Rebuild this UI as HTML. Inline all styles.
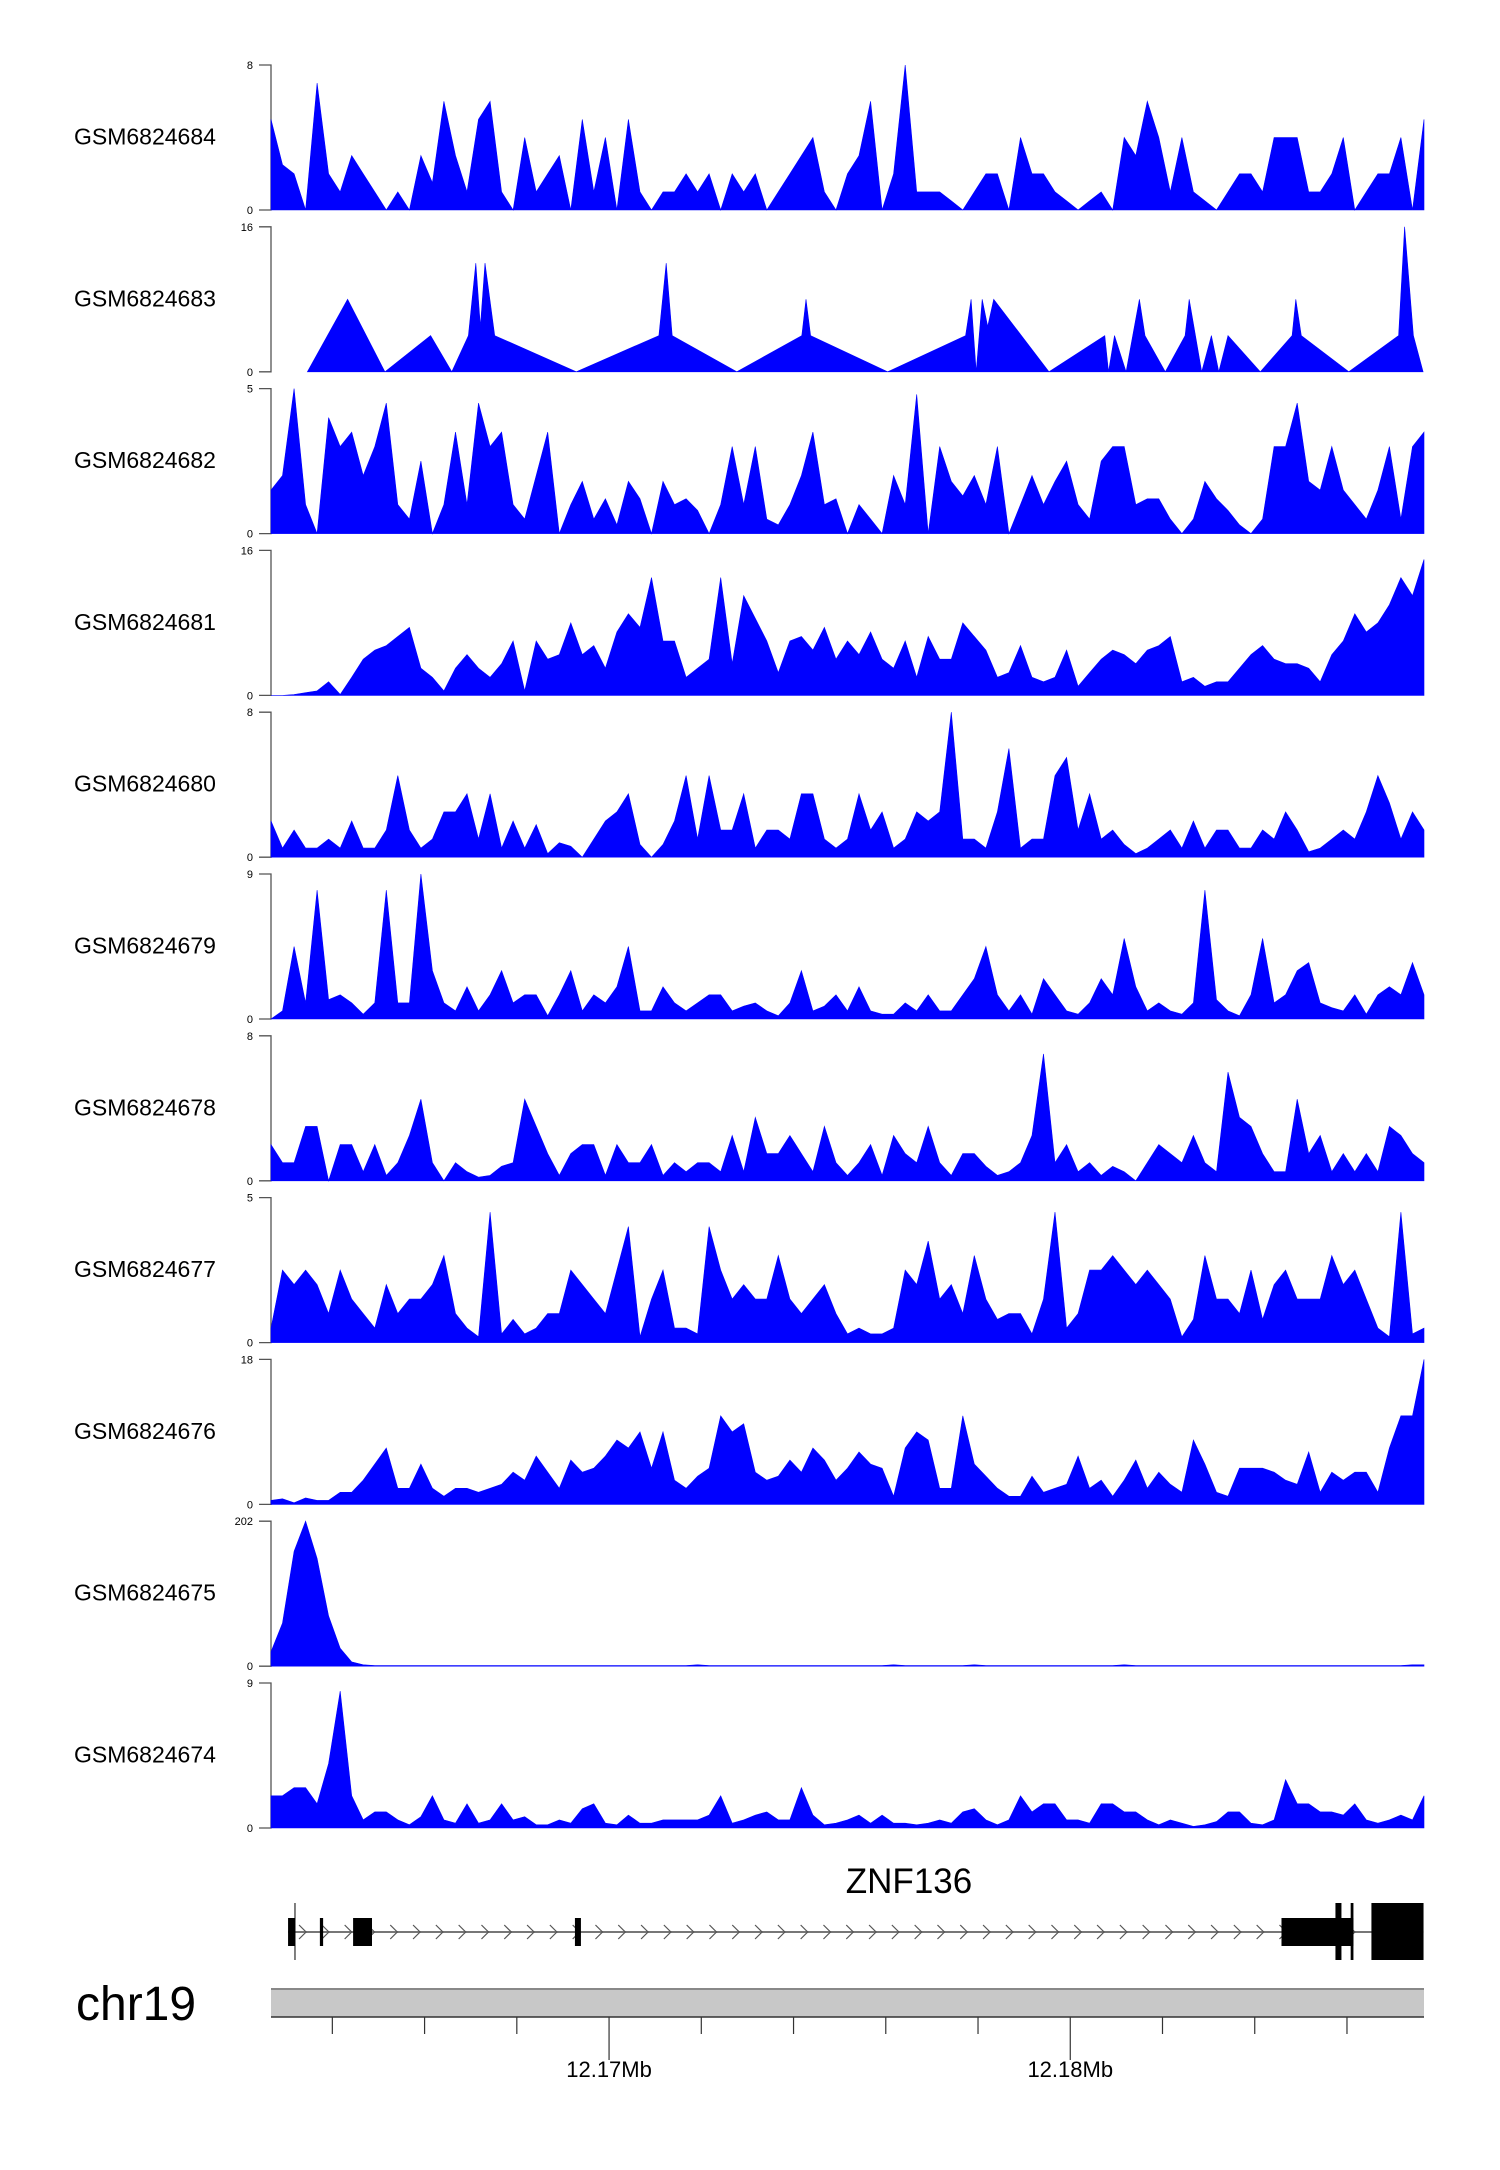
<!DOCTYPE html>
<html><head><meta charset="utf-8">
<style>
html,body{margin:0;padding:0;background:#fff;}
svg{display:block;font-family:"Liberation Sans",Arial,sans-serif;}
</style></head>
<body>
<svg id="chart" width="1500" height="2170" viewBox="0 0 1500 2170" xmlns="http://www.w3.org/2000/svg">
<g id="tracks"></g>
<g id="gene"></g>
<g id="ideo"></g>
</svg>
<script>
// ---- data ----
const sampleNames = ["GSM6824684","GSM6824683","GSM6824682","GSM6824681","GSM6824680","GSM6824679","GSM6824678","GSM6824677","GSM6824676","GSM6824675","GSM6824674"];
const yMaxLabels = [8,16,5,16,8,9,8,5,18,202,9];
const regionStartKb = 12162.67;
const regionEndKb = 12187.67;
const t1 = [5,2.5,2,0,7,2,1,3,2,1,0,1,0,3,1.5,6,3,1,5,6,1,0,4,1,2,3,0,5,1,4,0,5,1,0,1,1,2,1,2,0,2,1,2,0,1,2,3,4,1,0,2,3,6,0,2,8,1,1,1,0.5,0,1,2,2,0,4,2,2,1,0.5,0,0.5,1,0,4,3,6,4,1,4,1,0.5,0,1,2,2,1,4,4,4,1,1,2,4,0,1,2,2,4,0,5];
const t2Pos = [0.79,1.66,2.47,3.46,3.92,4.28,4.44,4.54,4.64,4.85,6.62,8.41,8.57,8.70,10.10,11.51,11.60,11.70,13.37,15.06,15.18,15.29,15.42,15.54,15.67,16.87,18.08,18.16,18.29,18.54,18.83,18.95,19.39,19.82,19.91,20.18,20.39,20.55,20.75,21.45,22.14,22.22,22.34,23.37,24.45,24.58,24.77,24.98];
const t2Val = [0,8,0,4,0,4,12,5,12,4,0,4,12,4,0,4,8,4,0,4,8,0,8,5,8,0,4,0,4,0,8,4,0,4,8,0,4,0,4,0,4,8,4,0,4,16,4,0];
const t3 = [1.5,2,5,1,0,4,3,3.5,2,3,4.5,1,0.5,2.5,0,1,3.5,1,4.5,3,3.5,1,0.5,2,3.5,0,1,1.8,0.5,1.2,0.3,1.8,1.2,0,1.8,1,1.2,0.8,0,1,3,1,3,0.5,0.3,1,2,3.5,1,1.2,0,1,0.5,0,2,1,4.8,0,3,1.8,1.3,2,1,3,0,1,2,1,1.8,2.5,1,0.5,2.5,3,3,1,1.2,1.2,0.5,0,0.5,1.8,1.2,0.8,0.3,0,0.5,3,3,4.5,1.8,1.5,3,1.5,1,0.5,1.5,3,0.5,3,3.5];
const t4 = [0,0,0.1,0.3,0.5,1.5,0.1,2,4,5,5.5,6.5,7.5,3,2,0.5,3,4.5,3,2,3.5,6,0.5,6,4,4.5,8,4.5,5.5,3,7,9,7.5,13,6,6,2,3,4,13,3.5,11,8.5,6,2.5,6,6.5,5,7.5,4,6,4.5,7,4,3,6,2,6.5,4,4,8,6.5,5,2,2.5,5.5,2,1.5,2,5,1,2.5,4,5,4.5,3.5,5,5.5,6.5,1.5,2,1,1.5,1.5,3,4.5,5.5,4,3.5,3.5,3,1.5,4.5,6,9,7,8,10,13,11,15];
const t5 = [2,0.5,1.5,0.5,0.5,1,0.5,2,0.5,0.5,1.5,4.5,1.5,0.5,1,2.5,2.5,3.5,1,3.5,0.5,2,0.5,1.8,0.2,0.8,0.6,0,1,2,2.5,3.5,0.7,0,0.7,2,4.5,1,4.5,1.5,1.5,3.5,0.5,1.5,1.5,1,3.5,3.5,1,0.5,1,3.5,1.5,2.5,0.5,1,2.5,2,2.5,8,1,1,0.5,2.5,6,0.5,1,1,4.5,5.5,1.5,3.5,1,1.5,0.7,0.2,0.5,1,1.5,0.5,2,0.5,1.5,1.5,0.5,0.5,1.5,1,2.5,1.5,0.3,0.5,1,1.5,1,2.5,4.5,3,1,2.5,1.5];
const t6 = [0,0.5,4.5,1,8,1.2,1.5,1,0.3,1,8,1,1,9,3,1,0.5,2,0.5,1.5,3,1,1.5,1.5,0.2,1.5,3,0.5,1.5,1,2,4.5,0.5,0.5,2,1,0.5,1,1.5,1.5,0.5,0.8,1,0.5,0.2,1,3,0.5,0.8,1.5,0.5,2,0.5,0.3,0.3,1,0.5,1.5,0.5,0.5,1.5,2.5,4.5,1.5,0.5,1.5,0.3,2.5,1.5,0.5,0.3,1,2.5,1.5,5,2,0.5,1,0.5,0.3,1,8,1.2,0.5,0.2,1.5,5,1,1.5,3,3.5,1,0.7,0.5,1.5,0.3,1.5,2,1.5,3.5,1.5];
const t7 = [2,1,1,3,3,0,2,2,0.5,2,0.3,1,2.5,4.5,1,0,1,0.5,0.2,0.3,0.8,1,4.5,3,1.5,0.3,1.5,2,2,0.3,2,1,1,2,0.3,1,0.5,1,1,0.5,2.5,0.5,3.5,1.5,1.5,2.5,1.5,0.5,3,1,0.3,1,2,0.3,2.5,1.5,1,3,1,0.3,1.5,1.5,0.8,0.3,0.5,1,2.5,7,1,2,0.5,1,0.3,0.8,0.5,0,1,2,1.5,1,2.5,1,0.5,6,3.5,3,1.5,0.5,0.5,4.5,1.5,2.5,0.5,1.5,0.5,1.5,0.5,3,2.5,1.5,1];
const t8 = [0.5,2.5,2,2.5,2,1,2.5,1.5,1,0.5,2,1,1.5,1.5,2,3,1,0.5,0.2,4.5,0.3,0.8,0.3,0.5,1,1,2.5,2,1.5,1,2.5,4,0.2,1.5,2.5,0.5,0.5,0.3,4,2.5,1.5,2,1.5,1.5,3,1.5,1,1.5,2,1,0.3,0.5,0.3,0.3,0.5,2.5,2,3.5,1.5,2,1,3,1.5,0.8,1,1,0.3,1.5,4.5,0.5,1,2.5,2.5,3,2.5,2,2.5,2,1.5,0.2,0.8,3,1.5,1.5,1,2.5,0.8,2,2.5,1.5,1.5,1.5,3,2,2.5,1.5,0.5,0.2,4.5,0.3,0.5];
const t9 = [0.5,0.7,0.2,0.8,0.5,0.5,1.5,1.5,3,5,7,2,2,5,2,1,2,2,1.5,2,2.5,4,3,6,4,2,5.5,4,4.5,6,8,7,9,4.5,9,3,2,3.5,4.5,11,9,10,4,3,3.5,5.5,4,7,5.5,3,4.5,6.5,5,4.5,1,7,9,8,2,2,11,5,3.5,2,1,1,3.5,1.5,2,2.5,6,2,3,1,3,5.5,2,4,2.5,1.5,8,5,1.5,1,4.5,4.5,4.5,4,3,2.5,6.5,1.5,4,3,4,4,1.5,7,11,11,18];
const t10 = [20,60,160,202,150,70,25,6,2,1,1,1,1,1,1,1,1,1,1,1,1,1,1,1,1,1,1,1,1,1,1,1,1,1,1,1,1,2,1,1,1,1,1,1,1,1,1,1,1,1,1,1,1,1,2,1,1,1,1,1,1,2,1,1,1,1,1,1,1,1,1,1,1,1,2,1,1,1,1,1,1,1,1,1,1,1,1,1,1,1,1,1,1,1,1,1,1,1,1,2,2];
const t11 = [2,2,2.5,2.5,1.5,4,8.5,2,0.5,1,1,0.5,0.2,0.7,2,0.5,0.3,1.5,0.3,0.5,1.5,0.5,0.7,0.2,0.2,0.5,0.3,1.2,1.5,0.3,0.2,0.8,0.3,0.3,0.5,0.5,0.5,0.5,0.8,2,0.3,0.5,0.8,1,0.5,0.5,2.5,0.8,0.2,0.3,0.5,0.8,0.3,0.8,0.3,0.3,0.2,0.3,0.5,0.3,1,1.2,0.5,0.2,0.5,2,1,1.5,1.5,0.5,0.5,0.3,1.5,1.5,1,1,0.5,0.2,0.5,0.3,0.1,0.2,0.4,1,1,0.3,0.2,0.5,3,1.5,1.5,1,1,0.8,1.5,0.5,0.3,0.5,0.8,0.5,2];
const binnedSeries = [t1,null,t3,t4,t5,t6,t7,t8,t9,t10,t11];
// gene exons (kb offsets from region start)
const exonStart = [0.37,1.06,1.78,6.59,21.91,23.08,23.41,23.86];
const exonEnd   = [0.52,1.13,2.19,6.72,23.47,23.21,23.47,24.99];
const exonKind  = ["s","s","s","s","s","t","t","t"];
const tssKb = 0.52;
const geneName = "ZNF136";
const axisTicksKb = [12164,12166,12168,12170,12172,12174,12176,12178,12180,12182,12184,12186];
const axisMajorLabels = {12170:"12.17Mb",12180:"12.18Mb"};

// ---- layout ----
const NS="http://www.w3.org/2000/svg";
const X0=271, X1=1424, TOP0=65, PITCH=161.8, H=145;
function xKb(kb){return X0+(kb-regionStartKb)/(regionEndKb-regionStartKb)*(X1-X0);}
function xOff(off){return xKb(regionStartKb+off);}
function mk(tag,attrs,parent){const e=document.createElementNS(NS,tag);for(const k in attrs)e.setAttribute(k,attrs[k]);parent.appendChild(e);return e;}

const tracks=document.getElementById('tracks');
sampleNames.forEach((nm,i)=>{
  const top=TOP0+i*PITCH, base=top+H, ymax=yMaxLabels[i];
  const yv=v=>base-(v/ymax)*H;
  const g=mk('g',{},tracks);
  
  
  const lab=mk('text',{x:74,y:(top+base)/2+7,'font-size':23,fill:'#000'},g);
  lab.textContent=nm;
  
  
  const ax=mk('path',{d:`M259,${top}H${X0}V${base}H259`,fill:'none',stroke:'#555','stroke-width':1.3},g);
  
  
  const tt=mk('text',{x:253,y:top+4,'font-size':11,'text-anchor':'end',fill:'#000'},g);
  tt.textContent=String(ymax);
  
  
  const tb=mk('text',{x:253,y:base+4,'font-size':11,'text-anchor':'end',fill:'#000'},g);
  tb.textContent="0";
  
  
  let pts=[];
  if(binnedSeries[i]){
    const s=binnedSeries[i], n=s.length-1, span=regionEndKb-regionStartKb;
    s.forEach((v,j)=>pts.push([xKb(regionStartKb+span*j/n),yv(v)]));
  } else {
    t2Pos.forEach((p,j)=>pts.push([xOff(p),yv(t2Val[j])]));
  }
  let d=`M${pts[0][0].toFixed(1)},${base}`;
  pts.forEach(p=>d+=`L${p[0].toFixed(1)},${p[1].toFixed(1)}`);
  d+=`L${pts[pts.length-1][0].toFixed(1)},${base}Z`;
  const ar=mk('path',{d:d,fill:'#0000ff',stroke:'#0000ff','stroke-width':0.6},g);
  
  
});

// gene track
const gg=document.getElementById('gene');


const GY=1932;
const gl=mk('text',{x:909,y:1893,'font-size':35,'text-anchor':'middle',fill:'#000'},gg);
gl.textContent=geneName;


const intr=mk('line',{x1:xOff(exonStart[0]),x2:xOff(exonEnd[exonEnd.length-1]),y1:GY,y2:GY,stroke:'#777','stroke-width':2},gg);


for(let x=xOff(exonStart[0])+14;x<xOff(exonStart[7])-5;x+=22.8){
  const c=mk('path',{d:`M${x-3},${GY-7}L${x+4},${GY}L${x-3},${GY+7}`,fill:'none',stroke:'#555','stroke-width':1.2},gg);
  
  
}
exonStart.forEach((s,j)=>{
  const tall=exonKind[j]==='t';
  const y0=tall?1903:1918, y1=tall?1960:1946;
  const r=mk('rect',{x:xOff(s),y:y0,width:Math.max(2,xOff(exonEnd[j])-xOff(s)),height:y1-y0,fill:'#000'},gg);
  
  
});
const tss=mk('line',{x1:xOff(tssKb),x2:xOff(tssKb),y1:1903,y2:1960,stroke:'#000','stroke-width':1},gg);



// ideogram / genome axis
const ig=document.getElementById('ideo');


const chr=mk('text',{x:76,y:2020,'font-size':48,fill:'#000'},ig);
chr.textContent="chr19";


const bar=mk('rect',{x:X0,y:1988,width:X1-X0,height:29,fill:'#c8c8c8'},ig);


mk('line',{x1:X0,x2:X1,y1:1989,y2:1989,stroke:'#888','stroke-width':2},ig);
mk('line',{x1:X0,x2:X1,y1:2017,y2:2017,stroke:'#333','stroke-width':1.5},ig);
axisTicksKb.forEach(k=>{
  const x=xKb(k), major=axisMajorLabels[k]!==undefined;
  const t=mk('line',{x1:x,x2:x,y1:2017,y2:major?2060:2034,stroke:'#333','stroke-width':1.2},ig);
  
  
  if(major){
    const l=mk('text',{x:x,y:2077,'font-size':22,'text-anchor':'middle',fill:'#000'},ig);
    l.textContent=axisMajorLabels[k];
    
    
  }
});
</script>
</body></html>
